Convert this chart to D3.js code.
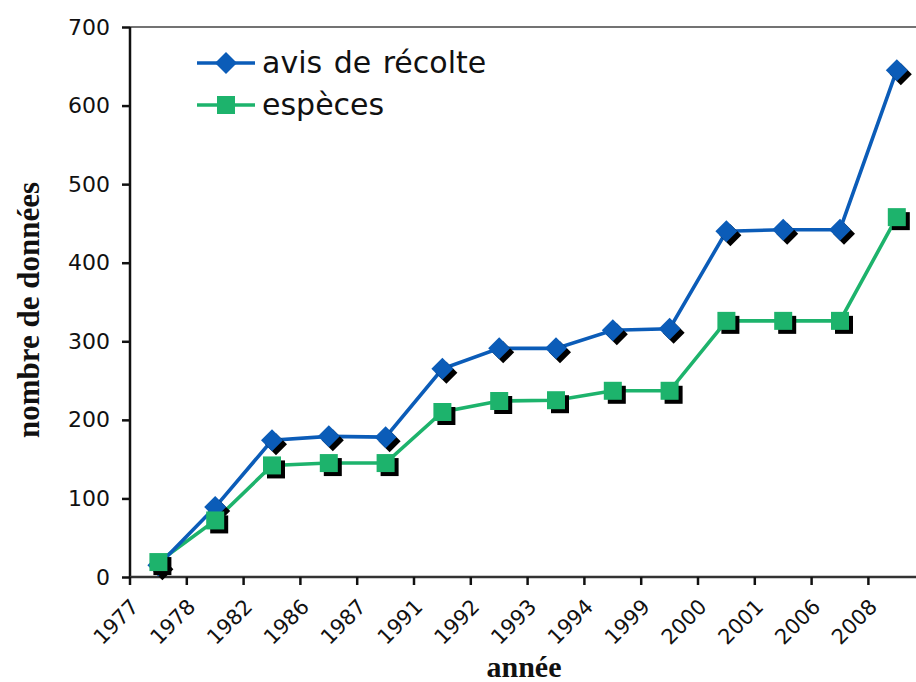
<!DOCTYPE html>
<html><head><meta charset="utf-8">
<script src="https://cdn.jsdelivr.net/npm/d3@7"></script>
<style>body{margin:0;background:#fff}svg{display:block}</style>
</head><body>
<svg id="c" width="916" height="682"></svg>
<script>
const years = ["1977","1978","1982","1986","1987","1991","1992","1993","1994","1999","2000","2001","2006","2008"];
const avis = [15, 89, 174, 179, 178, 265, 291, 291, 314, 316, 440, 442, 442, 645];
const especes = [19, 72, 142, 145, 145, 210, 224, 225, 237, 237, 326, 326, 326, 458];
const yTicks = [0,100,200,300,400,500,600,700];
const seriesNames = ["avis de récolte", "espèces"];

const svg = d3.select("#c");
const mLeft = 130, mTop = 27, mBottom = 577, band = 56.8;
const x = d3.scaleBand().domain(years).range([mLeft, mLeft + band*years.length]).padding(0);
const y = d3.scaleLinear().domain([0,700]).range([mBottom, mTop]);
const cx = d => x(d) + x.bandwidth()/2;
const sans = "DejaVu Sans, Verdana, sans-serif";
const serif = "Liberation Serif, Times New Roman, serif";

// frame top line
svg.append("line").attr("x1", mLeft).attr("x2", 916).attr("y1", mTop).attr("y2", mTop)
  .attr("stroke", "#444").attr("stroke-width", 1.5);

// y axis
const yAxis = svg.append("g").attr("transform", `translate(${mLeft},0)`)
  .call(d3.axisLeft(y).tickValues(yTicks).tickSize(8).tickPadding(12).tickFormat(d3.format("d")));
yAxis.select(".domain").attr("stroke", "#111").attr("stroke-width", 2.5).attr("d", `M0,${mTop}V${mBottom}`);
yAxis.selectAll(".tick line").attr("stroke", "#111").attr("stroke-width", 2.5);
yAxis.selectAll(".tick text").attr("font-family", sans).attr("font-size", 22).attr("fill", "#111");

// x axis
const xAxis = svg.append("g").attr("transform", `translate(0,${mBottom})`)
  .call(d3.axisBottom(x).tickSize(0).tickFormat(""));
xAxis.select(".domain").attr("stroke", "#333").attr("stroke-width", 2.5).attr("d", `M${mLeft},0H916`);
xAxis.selectAll(".tick").remove();
const tg = xAxis.selectAll("g.xt").data(years).join("g").attr("class","xt")
  .attr("transform", d => `translate(${x(d)},0)`);
tg.append("line").attr("y1", 0).attr("y2", 8).attr("stroke", "#111").attr("stroke-width", 2.5);
tg.append("text").text(d => d)
  .attr("transform", "translate(10,31) rotate(-45)")
  .attr("text-anchor", "end")
  .attr("font-family", sans).attr("font-size", 21).attr("fill", "#111");

// axis titles
svg.append("text").text("année").attr("x", 524).attr("y", 677).attr("text-anchor", "middle")
  .attr("font-family", serif).attr("font-weight", "bold").attr("font-size", 30).attr("fill", "#111");
svg.append("text").text("nombre de données").attr("transform", "translate(39,310) rotate(-90)").attr("text-anchor", "middle")
  .attr("font-family", serif).attr("font-weight", "bold").attr("font-size", 31).attr("fill", "#111");

const blue = "#0b5cb8", green = "#1db36c";
const line = d3.line().x((d,i) => cx(years[i])).y(d => y(d));

function diamond(g, px, py, color, s) {
  g.append("path").attr("d", `M${px},${py-s}L${px+s},${py}L${px},${py+s}L${px-s},${py}Z`).attr("fill", color);
}
function square(g, px, py, color, s) {
  g.append("rect").attr("x", px-s).attr("y", py-s).attr("width", 2*s).attr("height", 2*s).attr("fill", color);
}

// lines
svg.append("path").datum(especes).attr("d", line).attr("fill","none").attr("stroke", green).attr("stroke-width", 3.6);
svg.append("path").datum(avis).attr("d", line).attr("fill","none").attr("stroke", blue).attr("stroke-width", 3.6);

// markers with shadows
const mg = svg.append("g");
avis.forEach((v,i) => diamond(mg, cx(years[i])+4, y(v)+4, "#000", 11));
avis.forEach((v,i) => diamond(mg, cx(years[i]), y(v), blue, 11));
especes.forEach((v,i) => square(mg, cx(years[i])+4, y(v)+4, "#000", 9));
especes.forEach((v,i) => square(mg, cx(years[i]), y(v), green, 9));

// legend
const lg = svg.append("g");
const legendY = [63, 105];
[blue, green].forEach((c, i) => {
  lg.append("line").attr("x1", 197).attr("x2", 255).attr("y1", legendY[i]).attr("y2", legendY[i]).attr("stroke", c).attr("stroke-width", 3.6);
  if (i === 0) diamond(lg, 226, legendY[i], c, 11); else square(lg, 226, legendY[i], c, 9);
  lg.append("text").text(seriesNames[i]).attr("x", 262).attr("y", legendY[i] + 10)
    .attr("font-family", sans).attr("font-size", 30).attr("word-spacing", 2).attr("fill", "#111");
});
</script>
</body></html>
